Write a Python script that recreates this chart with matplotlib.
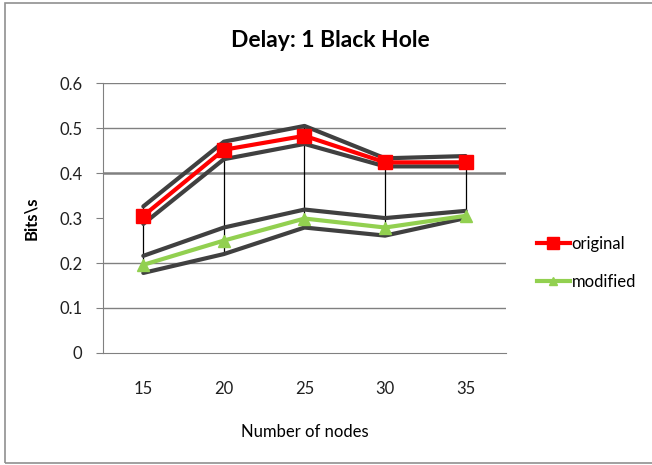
import matplotlib
matplotlib.use("Agg")
import matplotlib.pyplot as plt
from matplotlib.patches import Rectangle
import numpy as np

plt.rcParams['font.family'] = ['Lato', 'DejaVu Sans']

nodes = ['15', '20', '25', '30', '35']

original = [0.305, 0.452, 0.483, 0.424, 0.424]
original_high = [0.326, 0.470, 0.505, 0.433, 0.438]
original_low = [0.287, 0.431, 0.465, 0.415, 0.415]

modified = [0.196, 0.250, 0.299, 0.279, 0.305]
modified_high = [0.216, 0.279, 0.319, 0.300, 0.316]
modified_low = [0.178, 0.220, 0.279, 0.261, 0.300]

yticks = [0, 0.1, 0.2, 0.3, 0.4, 0.5, 0.6]

fig = plt.figure(figsize=(6.52, 4.65), dpi=100)
fig.patches.append(Rectangle((0.008, 0.004), 0.995, 0.99, transform=fig.transFigure,
                             fill=False, edgecolor='#909090', lw=1.2))
ax = fig.add_axes([0.158, 0.241, 0.618, 0.58])

x = np.arange(len(nodes))

# grid lines (0.4 drawn heavier)
for v in yticks[1:]:
    if v == 0.3:
        continue
    ax.axhline(v, color='#808080', lw=1.8 if v == 0.4 else 1.0, zorder=1)

# high-low lines
hi = np.maximum(original_high, modified_high)
lo = np.minimum(original_low, modified_low)
ax.vlines(x, lo, hi, color='black', lw=0.9, zorder=2)

for band in (original_high, original_low, modified_high, modified_low):
    ax.plot(x, band, color='#404040', lw=3, zorder=3, solid_capstyle='round')

ax.plot(x, original, color='#ff0000', lw=3, marker='s', ms=10, zorder=4,
        label='original')
ax.plot(x, modified, color='#92d050', lw=3, marker='^', ms=8, zorder=4,
        label='modified')

ax.set_xlim(-0.5, 4.5)
ax.set_ylim(0, 0.6)
ax.set_xticks(x)
ax.set_xticklabels(nodes)
ax.set_yticks(yticks)
ax.set_yticklabels(['0', '0.1', '0.2', '0.3', '0.4', '0.5', '0.6'])
ax.tick_params(axis='x', length=0, pad=20, labelsize=12, labelcolor='#202020')
ax.tick_params(axis='y', length=5, color='#808080', pad=10, labelsize=12,
               labelcolor='#202020')

for s in ('top', 'right'):
    ax.spines[s].set_visible(False)
ax.spines['left'].set_color('#808080')
ax.spines['bottom'].set_color('#808080')

ax.set_xlabel('Number of nodes', fontsize=12, labelpad=20)
ax.set_ylabel('Bits\\s', fontsize=12, fontweight='bold', labelpad=14)
fig.text(0.506, 0.913, 'Delay: 1 Black Hole', fontsize=16.5, fontweight='bold',
         ha='center', va='center')

fig.legend(loc='center left', bbox_to_anchor=(0.8, 0.435), frameon=False,
           fontsize=12, handlelength=2.0, handletextpad=0.1, labelspacing=1.3,
           markerscale=0.8)

fig.savefig('out.png', dpi=100)
